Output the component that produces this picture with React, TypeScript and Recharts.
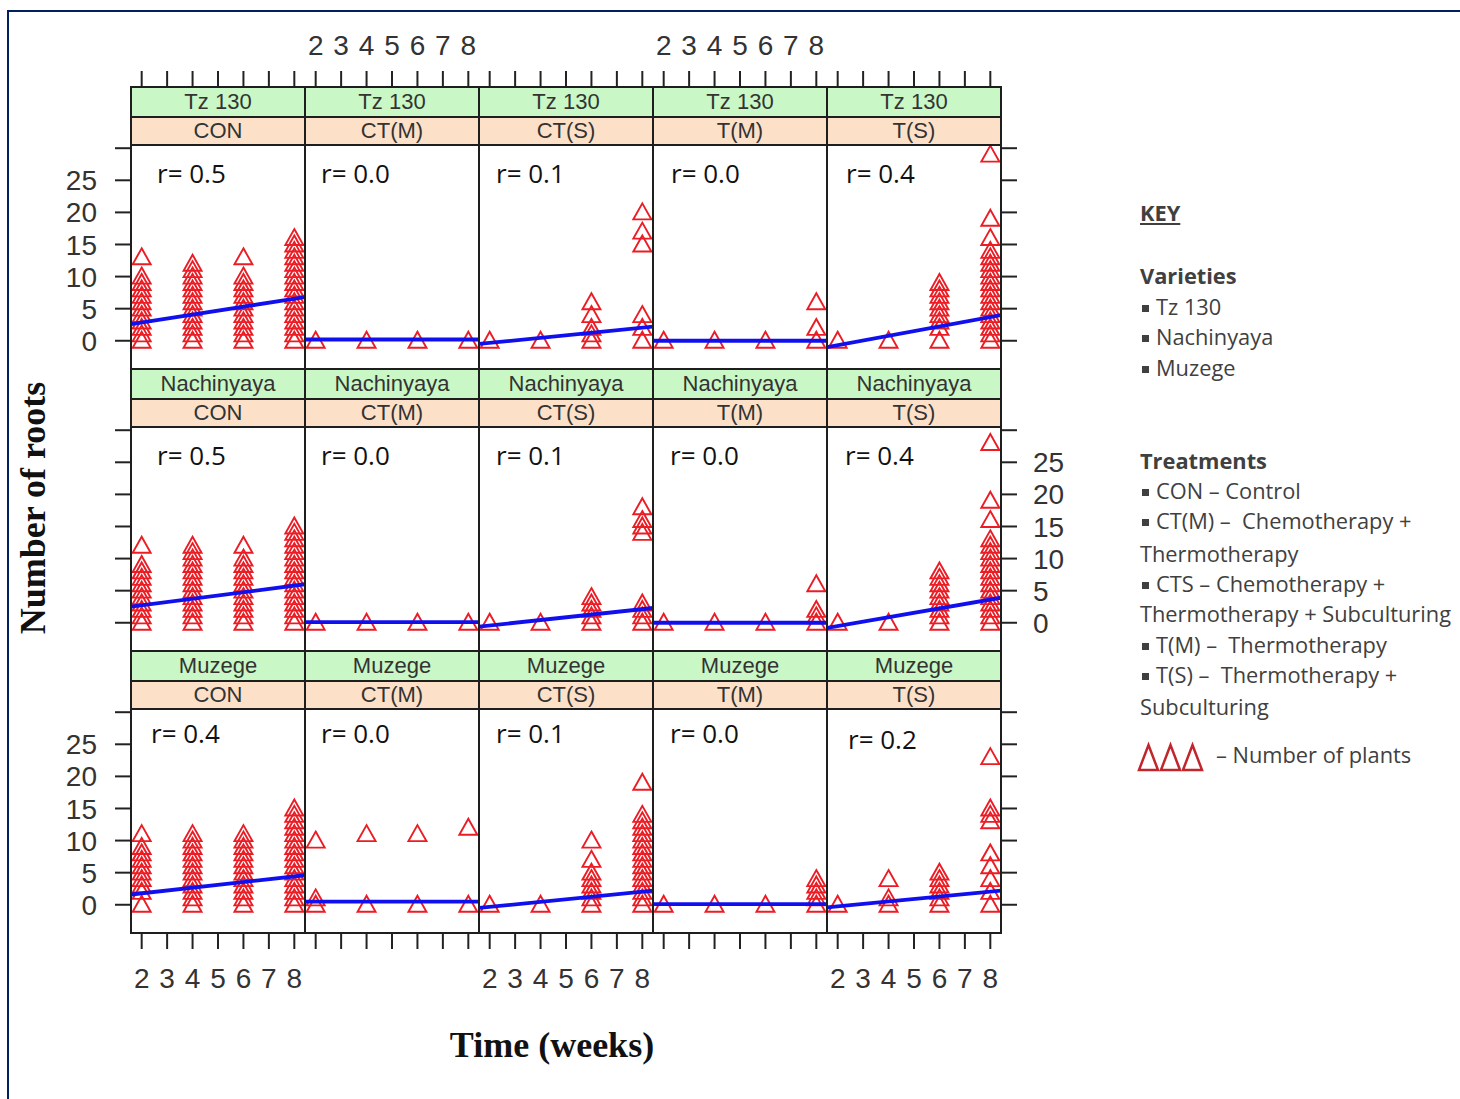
import React from "react";
import { ComposedChart, Scatter, XAxis, YAxis } from "recharts";

const weeks = [2, 4, 6, 8];
const xTicks = [2, 3, 4, 5, 6, 7, 8];
const yTicks = [0, 5, 10, 15, 20, 25, 30];
const varieties = ["Tz 130", "Nachinyaya", "Muzege"];
const treatments = ["CON", "CT(M)", "CT(S)", "T(M)", "T(S)"];

// number of roots per plant, one list for each week (2, 4, 6, 8)
const tzCON = [
  [0, 1, 2, 3, 4, 5, 6, 7, 8, 9, 10, 13],
  [0, 1, 2, 3, 4, 5, 6, 7, 8, 9, 10, 11, 12],
  [0, 1, 2, 3, 4, 5, 6, 7, 8, 9, 10, 13],
  [0, 1, 2, 3, 4, 5, 6, 7, 8, 9, 10, 11, 12, 13, 14, 15, 16],
];
const tzCTM = [[0], [0], [0], [0]];
const tzCTS = [[0], [0], [0, 1, 2, 4, 6], [0, 2, 4, 15, 17, 20]];
const tzTM = [[0], [0], [0], [0, 2, 6]];
const tzTS = [
  [0],
  [0],
  [0, 2, 3, 4, 5, 6, 7, 8, 9],
  [0, 1, 2, 3, 4, 5, 6, 7, 8, 9, 10, 11, 12, 13, 14, 16, 19, 29],
];

const nachCON = [
  [0, 1, 2, 3, 4, 5, 6, 7, 8, 9, 12],
  [0, 1, 2, 3, 4, 5, 6, 7, 8, 9, 10, 11, 12],
  [0, 1, 2, 3, 4, 5, 6, 7, 8, 9, 10, 12],
  [0, 1, 2, 3, 4, 5, 6, 7, 8, 9, 10, 11, 12, 13, 14, 15],
];
const nachCTM = [[0], [0], [0], [0]];
const nachCTS = [[0], [0], [0, 1, 2, 3, 4], [0, 1, 2, 3, 14, 15, 16, 18]];
const nachTM = [[0], [0], [0], [0, 1, 2, 6]];
const nachTS = [
  [0],
  [0],
  [0, 1, 2, 3, 4, 5, 6, 7, 8],
  [0, 1, 2, 3, 4, 5, 6, 7, 8, 9, 10, 11, 12, 13, 16, 19, 28],
];

const muzCON = [
  [0, 2, 3, 4, 5, 6, 7, 8, 9, 11],
  [0, 1, 2, 3, 4, 5, 6, 7, 8, 9, 10, 11],
  [0, 1, 2, 3, 4, 5, 6, 7, 8, 9, 10, 11],
  [0, 1, 2, 3, 4, 5, 6, 7, 8, 9, 10, 11, 12, 13, 14, 15],
];
const muzCTM = [[0, 1, 10], [0, 11], [0, 11], [0, 12]];
const muzCTS = [
  [0],
  [0],
  [0, 1, 2, 3, 4, 5, 7, 10],
  [0, 1, 2, 3, 4, 5, 6, 7, 8, 9, 10, 11, 12, 13, 14, 19],
];
const muzTM = [[0], [0], [0], [0, 1, 2, 3, 4]];
const muzTS = [[0], [0, 1, 4], [0, 1, 2, 3, 4, 5], [0, 2, 4, 6, 8, 13, 14, 15, 23]];

const panels = [
  [tzCON, tzCTM, tzCTS, tzTM, tzTS],
  [nachCON, nachCTM, nachCTS, nachTM, nachTS],
  [muzCON, muzCTM, muzCTS, muzTM, muzTS],
];

// correlation labels
const rTz = ["0.5", "0.0", "0.1", "0.0", "0.4"];
const rNach = ["0.5", "0.0", "0.1", "0.0", "0.4"];
const rMuz = ["0.4", "0.0", "0.1", "0.0", "0.2"];
const rValues = [rTz, rNach, rMuz];

// fitted line, value at left and right edge of each panel
const fitStartTz = [2.6, 0.2, -0.5, 0, -1];
const fitEndTz = [6.8, 0.2, 2.2, 0, 4];
const fitStartNach = [2.5, 0.1, -0.6, 0, -0.8];
const fitEndNach = [6.0, 0.1, 2.3, 0, 3.9];
const fitStartMuz = [1.6, 0.5, -0.5, 0.1, -0.4];
const fitEndMuz = [4.6, 0.5, 2.2, 0.1, 2.2];
const fitStart = [fitStartTz, fitStartNach, fitStartMuz];
const fitEnd = [fitEndTz, fitEndNach, fitEndMuz];

// layout
const COL_X = [131, 305, 479, 653, 827];
const COL_W = 174;
const ROW_Y = [87, 369, 651];
const GREEN_H = 30;
const PEACH_H = 28;
const PLOT_H = 224;
const CELL_H = GREEN_H + PEACH_H + PLOT_H;
const TOP_H = 67;
const BOTTOM_H = 75;
const LEFT_W = 80;
const RIGHT_W = 80;
const X_DOMAIN: [number, number] = [1.58, 8.42];
const Y_MIN = -4.4;
const Y_TOP = 30.5;
const Y_MAX = Y_TOP + ((GREEN_H + PEACH_H) * (Y_TOP - Y_MIN)) / PLOT_H;

const rDx = [
  [26, 16, 17, 18, 19],
  [26, 16, 17, 17, 18],
  [20, 16, 17, 17, 21],
];
const rDy = [
  [28, 28, 28, 28, 28],
  [28, 28, 28, 28, 28],
  [24, 24, 24, 24, 30],
];

const RED = "#ec1c24";
const BLUE = "#1010ee";
const tickFont = { fontFamily: "'Liberation Sans', Arial, sans-serif", fontSize: 28, fill: "#333" };
const tickLine = { stroke: "#222", strokeWidth: 2 };

const makeTick = (kind: string, show: boolean) => (p: any) => {
  const v = p.payload.value;
  if (!show || v === 30) return <g />;
  if (kind === "top")
    return <text x={p.x} y={p.y} textAnchor="middle" {...tickFont}>{v}</text>;
  if (kind === "bottom")
    return <text x={p.x} y={p.y} dy="0.72em" textAnchor="middle" {...tickFont}>{v}</text>;
  if (kind === "left")
    return <text x={p.x} y={p.y} dy="0.36em" textAnchor="end" {...tickFont}>{v}</text>;
  return <text x={p.x} y={p.y} dy="0.36em" textAnchor="start" {...tickFont}>{v}</text>;
};

const Triangle = (p: any) => (
  <path
    d={`M${p.cx},${p.cy - 9} L${p.cx + 9},${p.cy + 7} L${p.cx - 9},${p.cy + 7} Z`}
    fill="none"
    stroke={RED}
    strokeWidth={1.9}
  />
);

function Panel({ row, col }: { row: number; col: number }) {
  const data = panels[row][col].flatMap((vals, i) => vals.map((v) => ({ x: weeks[i], y: v })));
  const fit = [
    { x: X_DOMAIN[0], y: fitStart[row][col] },
    { x: X_DOMAIN[1], y: fitEnd[row][col] },
  ];
  const top = row === 0;
  const bottom = row === 2;
  const left = col === 0;
  const right = col === 4;
  const w = COL_W + (left ? LEFT_W : 0) + (right ? RIGHT_W : 0);
  const h = CELL_H + (top ? TOP_H : 0) + (bottom ? BOTTOM_H : 0);
  return (
    <div style={{ position: "absolute", left: COL_X[col] - (left ? LEFT_W : 0), top: ROW_Y[row] - (top ? TOP_H : 0) }}>
      <ComposedChart width={w} height={h} margin={{ top: 0, right: 0, bottom: 0, left: 0 }}>
        <XAxis
          type="number"
          dataKey="x"
          domain={X_DOMAIN}
          allowDataOverflow
          ticks={xTicks}
          interval={0}
          hide={!top && !bottom}
          orientation={top ? "top" : "bottom"}
          height={top ? TOP_H : BOTTOM_H}
          axisLine={false}
          tickLine={tickLine}
          tickSize={16}
          tickMargin={top ? 16 : 19}
          tick={makeTick(top ? "top" : "bottom", top ? col % 2 === 1 : col % 2 === 0)}
        />
        <YAxis
          type="number"
          dataKey="y"
          domain={[Y_MIN, Y_MAX]}
          allowDataOverflow
          ticks={yTicks}
          interval={0}
          hide={!left && !right}
          orientation={left ? "left" : "right"}
          width={left ? LEFT_W : RIGHT_W}
          axisLine={false}
          tickLine={tickLine}
          tickSize={16}
          tickMargin={left ? 18 : 16}
          tick={makeTick(left ? "left" : "right", left ? row !== 1 : row === 1)}
        />
        <Scatter data={data} shape={Triangle} isAnimationActive={false} />
        <Scatter
          data={fit}
          line={{ stroke: BLUE, strokeWidth: 3.8 }}
          shape={() => <g />}
          isAnimationActive={false}
        />
      </ComposedChart>
    </div>
  );
}

const box = (x: number, y: number, w: number, h: number, bg: string): React.CSSProperties => ({
  position: "absolute",
  left: x - 1,
  top: y - 1,
  width: w + 2,
  height: h + 2,
  boxSizing: "border-box",
  border: "2px solid #1e1e1e",
  background: bg,
  display: "flex",
  alignItems: "center",
  justifyContent: "center",
  fontFamily: "'Liberation Sans', Arial, sans-serif",
  fontSize: 22,
  color: "#333",
});

const legendLines = [
  { text: "Varieties", y: 276, bold: true, bullet: false },
  { text: "Tz 130", y: 307, bold: false, bullet: true },
  { text: "Nachinyaya", y: 337, bold: false, bullet: true },
  { text: "Muzege", y: 368, bold: false, bullet: true },
  { text: "Treatments", y: 461, bold: true, bullet: false },
  { text: "CON – Control", y: 491, bold: false, bullet: true },
  { text: "CT(M) –  Chemotherapy +", y: 521, bold: false, bullet: true },
  { text: "Thermotherapy", y: 554, bold: false, bullet: false },
  { text: "CTS – Chemotherapy +", y: 584, bold: false, bullet: true },
  { text: "Thermotherapy + Subculturing", y: 614, bold: false, bullet: false },
  { text: "T(M) –  Thermotherapy", y: 645, bold: false, bullet: true },
  { text: "T(S) –  Thermotherapy +", y: 675, bold: false, bullet: true },
  { text: "Subculturing", y: 707, bold: false, bullet: false },
];

const legendFont: React.CSSProperties = {
  position: "absolute",
  fontFamily: "'Open Sans', sans-serif",
  fontSize: 21.8,
  color: "#404040",
  lineHeight: "30px",
  height: 30,
  whiteSpace: "pre",
};

export default function App() {
  const cells: React.ReactNode[] = [];
  const overlays: React.ReactNode[] = [];
  for (let r = 0; r < 3; r++) {
    for (let c = 0; c < 5; c++) {
      cells.push(<Panel key={`p${r}${c}`} row={r} col={c} />);
      const x = COL_X[c];
      const y = ROW_Y[r];
      overlays.push(
        <div key={`g${r}${c}`} style={box(x, y, COL_W, GREEN_H, "#c9f7c5")}>{varieties[r]}</div>,
        <div key={`o${r}${c}`} style={box(x, y + GREEN_H, COL_W, PEACH_H, "#fde0c8")}>{treatments[c]}</div>,
        <div key={`b${r}${c}`} style={box(x, y + GREEN_H + PEACH_H, COL_W, PLOT_H, "transparent")} />,
        <div
          key={`r${r}${c}`}
          style={{
            position: "absolute",
            left: x + rDx[r][c],
            top: y + GREEN_H + PEACH_H + rDy[r][c] - 18,
            height: 36,
            lineHeight: "36px",
            fontFamily: "'Open Sans', sans-serif",
            fontSize: 26,
            color: "#111",
            whiteSpace: "pre",
          }}
        >
          {`r= ${rValues[r][c]}`}
        </div>
      );
    }
  }
  return (
    <div style={{ position: "absolute", left: 0, top: 0, width: 1460, height: 1099, overflow: "hidden", background: "#fff" }}>
      <div style={{ position: "absolute", left: 7, top: 10, width: 1480, height: 1120, border: "2.5px solid #002060" }} />
      {cells}
      {overlays}
      <div
        style={{
          position: "absolute",
          left: 33 - 160,
          top: 508 - 22,
          width: 320,
          height: 44,
          lineHeight: "44px",
          textAlign: "center",
          transform: "rotate(-90deg)",
          fontFamily: "'Liberation Serif', 'Times New Roman', serif",
          fontWeight: "bold",
          fontSize: 36,
          color: "#111",
        }}
      >
        Number of roots
      </div>
      <div
        style={{
          position: "absolute",
          left: 552 - 160,
          top: 1045 - 22,
          width: 320,
          height: 44,
          lineHeight: "44px",
          textAlign: "center",
          fontFamily: "'Liberation Serif', 'Times New Roman', serif",
          fontWeight: "bold",
          fontSize: 36,
          color: "#111",
        }}
      >
        Time (weeks)
      </div>
      <div style={{ ...legendFont, left: 1140, top: 213 - 15, fontWeight: "bold", textDecoration: "underline" }}>KEY</div>
      {legendLines.map((l) => (
        <div key={l.text} style={{ ...legendFont, left: 1140, top: l.y - 15, fontWeight: l.bold ? "bold" : "normal" }}>
          {l.bullet && (
            <span
              style={{
                display: "inline-block",
                width: 7,
                height: 7,
                background: "#404040",
                marginLeft: 2,
                marginRight: 7,
                verticalAlign: "3px",
              }}
            />
          )}
          {l.text}
        </div>
      ))}
      <svg style={{ position: "absolute", left: 1136, top: 740 }} width={68} height={34}>
        {[0, 1, 2].map((i) => (
          <polygon
            key={i}
            points={`${3 + i * 22},30 ${12.5 + i * 22},5 ${22 + i * 22},30`}
            fill="none"
            stroke="#c0262c"
            strokeWidth={2.5}
          />
        ))}
      </svg>
      <div style={{ ...legendFont, left: 1216, top: 755 - 15 }}>– Number of plants</div>
    </div>
  );
}
